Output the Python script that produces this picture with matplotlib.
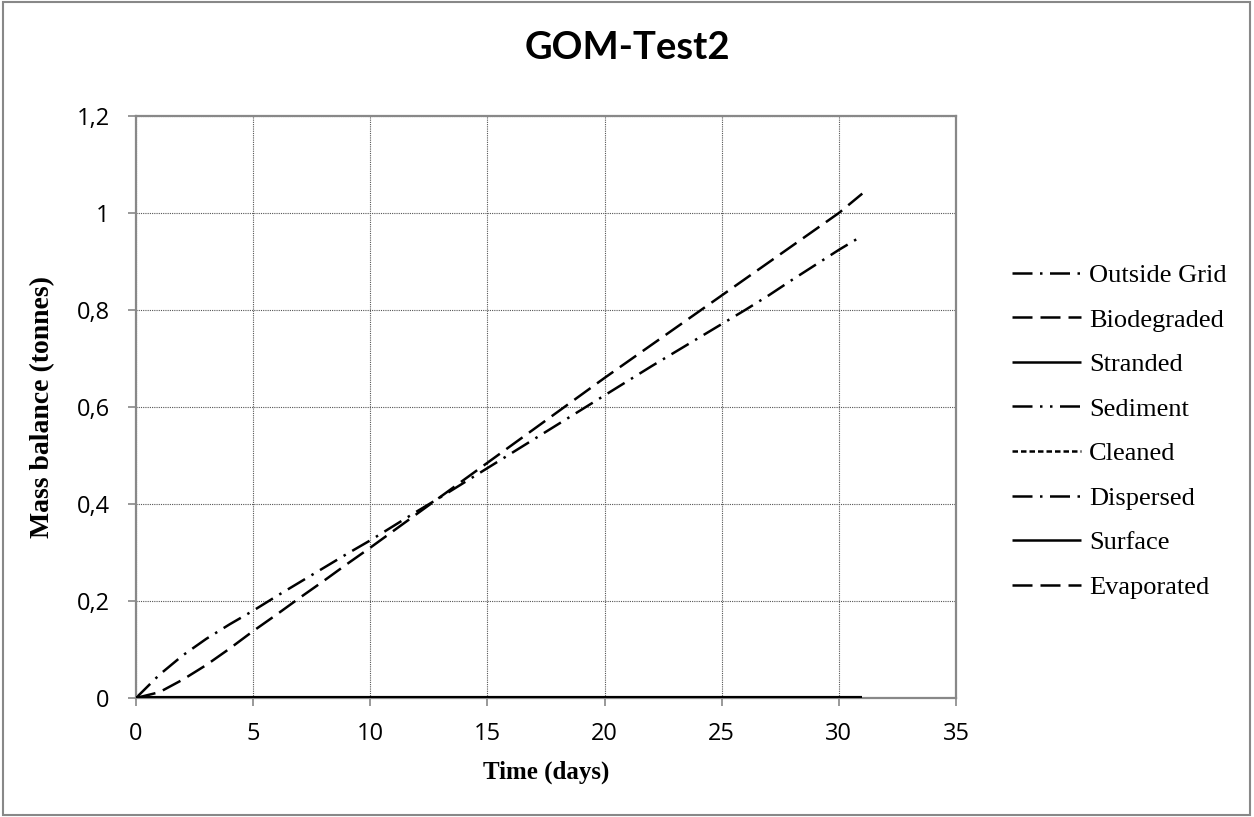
import matplotlib.pyplot as plt
from matplotlib.patches import Rectangle

# Mass balance of the GOM-Test2 run, one value per day
days = list(range(0, 32))
evaporated = [0.0, 0.012, 0.038, 0.068, 0.102, 0.138, 0.172, 0.207, 0.241, 0.276,
              0.310, 0.345, 0.380, 0.415, 0.450, 0.485, 0.520, 0.555, 0.590, 0.625,
              0.660, 0.694, 0.728, 0.762, 0.796, 0.830, 0.864, 0.898, 0.932, 0.966,
              1.000, 1.040]
dispersed = [0.0, 0.048, 0.088, 0.122, 0.152, 0.180, 0.210, 0.239, 0.268, 0.297,
             0.325, 0.355, 0.385, 0.414, 0.444, 0.474, 0.504, 0.534, 0.564, 0.594,
             0.624, 0.654, 0.684, 0.713, 0.742, 0.771, 0.800, 0.830, 0.862, 0.893,
             0.924, 0.953]
zeros = [0.0] * len(days)
outside_grid = zeros
biodegraded = zeros
stranded = zeros
sediment = zeros
cleaned = zeros
surface = zeros

x_ticks = [0, 5, 10, 15, 20, 25, 30, 35]
y_ticks = [0, 0.2, 0.4, 0.6, 0.8, 1.0, 1.2]
y_tick_labels = ['0', '0,2', '0,4', '0,6', '0,8', '1', '1,2']

fig = plt.figure(figsize=(12.54, 8.17), dpi=100)
W, H = 1254, 817
ax = fig.add_axes([136 / W, 1 - 698 / H, (956 - 136) / W, (698 - 116) / H])

lw = 1.8
dash = (8, 3.2)
dash_dot = (8, 3, 1, 3)
series = [
    ('Outside Grid', outside_grid, dict(dashes=dash_dot)),
    ('Biodegraded', biodegraded, dict(dashes=dash)),
    ('Stranded', stranded, dict(linestyle='-')),
    ('Sediment', sediment, dict(dashes=(8, 3, 1, 3, 1, 3))),
    ('Cleaned', cleaned, dict(dashes=(2.2, 1.2))),
    ('Dispersed', dispersed, dict(dashes=dash_dot)),
    ('Surface', surface, dict(linestyle='-')),
    ('Evaporated', evaporated, dict(dashes=dash)),
]
handles = []
for name, values, style in series:
    line, = ax.plot(days, values, color='black', lw=lw, label=name,
                    solid_capstyle='butt', dash_capstyle='butt', **style)
    handles.append(line)
# keep the flat zero line solid on top
ax.plot(days, surface, color='black', lw=3.0, solid_capstyle='butt', zorder=3)

ax.set_xlim(0, 35)
ax.set_ylim(0, 1.2)
ax.set_xticks(x_ticks)
ax.set_yticks(y_ticks)
ax.set_yticklabels(y_tick_labels)
ax.grid(True, color='#555555', linestyle=(0, (1, 1)), linewidth=0.8)
ax.set_axisbelow(True)
for side in ['left', 'right', 'top', 'bottom']:
    ax.spines[side].set_color('#888888')
    ax.spines[side].set_linewidth(1.6)
ax.tick_params(direction='out', length=6, width=1.2, color='#888888',
               labelsize=17)
ax.tick_params(axis='x', pad=11)
ax.tick_params(axis='y', pad=13)
for lab in ax.get_xticklabels() + ax.get_yticklabels():
    lab.set_fontfamily('Open Sans')

ax.set_xlabel('Time (days)', fontsize=18, fontweight='bold',
              fontfamily='Liberation Serif', va='center')
ax.set_ylabel('Mass balance (tonnes)', fontsize=20, fontweight='bold',
              fontfamily='Liberation Serif', va='center')
ax.xaxis.set_label_coords(0.5, (698 - 772) / 582)
ax.yaxis.set_label_coords((43 - 136) / 820, 0.5)

fig.text(0.5, 1 - 48 / H, 'GOM-Test2', ha='center', va='center',
         fontsize=27.5, fontweight='bold', fontfamily='Lato')

fig.legend(handles=handles, loc='upper left',
           bbox_to_anchor=(994 / W, 1 - 245 / H), frameon=False,
           prop={'family': 'Liberation Serif', 'size': 19},
           handlelength=2.6, handletextpad=0.3, labelspacing=0.8,
           borderpad=0.2)

fig.add_artist(Rectangle((0.002, 0.003), 0.995, 0.994, transform=fig.transFigure,
                         fill=False, edgecolor='#888888', linewidth=1.5))

fig.savefig('out.png', dpi=100)
